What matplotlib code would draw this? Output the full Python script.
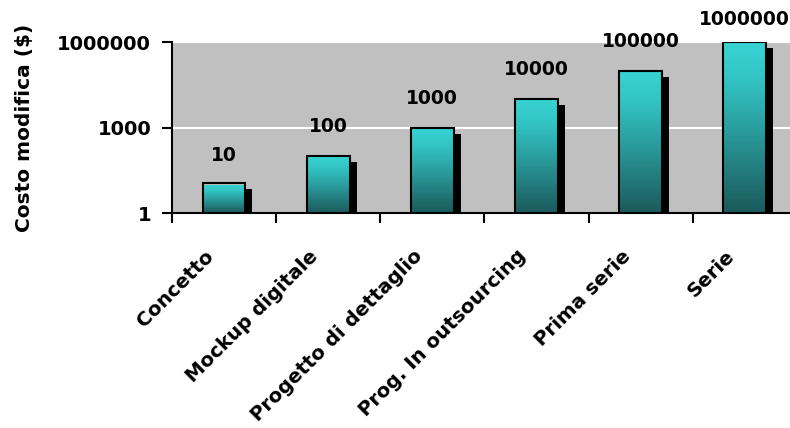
import numpy as np
import matplotlib.pyplot as plt
from matplotlib.colors import LinearSegmentedColormap
from matplotlib.transforms import ScaledTranslation

categories = ['Concetto', 'Mockup digitale', 'Progetto di dettaglio',
              'Prog. In outsourcing', 'Prima serie', 'Serie']
costs = [10, 100, 1000, 10000, 100000, 1000000]
value_labels = ['10', '100', '1000', '10000', '100000', '1000000']
ytick_vals = [1, 1000, 1000000]
ytick_labels = ['1', '1000', '1000000']

plt.rcParams['font.family'] = ['DejaVu Sans']
plt.rcParams['font.weight'] = 'bold'

fig = plt.figure(figsize=(7.9, 4.28), dpi=100)
ax = fig.add_axes([0.2177, 0.5023, 0.791, 0.3995])
ax.set_facecolor('#c0c0c0')
ax.set_yscale('log')
ax.set_ylim(1, 1000000)
ax.set_xlim(-0.5, len(categories) - 0.5)

# teal gradient, dark at the bottom, light at the top
cmap = LinearSegmentedColormap.from_list(
    'teal', [(0.0, '#1b5a5b'), (0.5, '#2a9e9f'), (0.8, '#33c4c4'), (1.0, '#38d2d2')])

x = np.arange(len(categories))
w = 0.41

# shadow: same bars shifted right/down a few pixels
shadow = ax.transData + ScaledTranslation(0.07, -0.06, fig.dpi_scale_trans)
ax.bar(x, costs, w, bottom=1, color='black', transform=shadow, zorder=2)

n = 80
for i, v in enumerate(costs):
    edges = np.geomspace(1, v, n + 1)
    cols = cmap(np.linspace(0, 1, n))
    ax.bar([x[i]] * n, edges[1:] - edges[:-1], w, bottom=edges[:-1],
           color=cols, linewidth=0, zorder=3)
ax.bar(x, costs, w, bottom=1, fill=False, edgecolor='black', linewidth=1.5, zorder=4)

for i, v in enumerate(costs):
    # last label is squeezed a bit so it stays inside the figure
    dy = 16 if i == len(costs) - 1 else 21
    ax.annotate(value_labels[i], (x[i], v), xytext=(0, dy), textcoords='offset points',
                ha='center', va='center', fontsize=13.5, fontweight='bold')

ax.set_yticks(ytick_vals)
ax.set_yticklabels(ytick_labels)
ax.yaxis.set_minor_locator(plt.NullLocator())
ax.tick_params(axis='y', length=7, width=1.5, pad=8, labelsize=14)
ax.yaxis.grid(True, color='white', linewidth=1.5)
ax.set_axisbelow(True)

ax.set_xticks(x)
ax.set_xticklabels(categories, rotation=45, ha='right', rotation_mode='anchor')
ax.set_xticks(np.arange(len(categories) + 1) - 0.5, minor=True)
ax.tick_params(axis='x', which='major', length=0, pad=24, labelsize=14.2)
ax.tick_params(axis='x', which='minor', length=7, width=1.5)
for lbl in ax.get_xticklabels():
    lbl.set_transform(lbl.get_transform() + ScaledTranslation(-0.2, 0, fig.dpi_scale_trans))

ax.set_ylabel('Costo modifica ($)', fontsize=14.5, fontweight='bold', labelpad=17)

for s in ['top', 'right']:
    ax.spines[s].set_visible(False)
for s in ['left', 'bottom']:
    ax.spines[s].set_linewidth(1.5)

plt.savefig('out.png', dpi=100)
